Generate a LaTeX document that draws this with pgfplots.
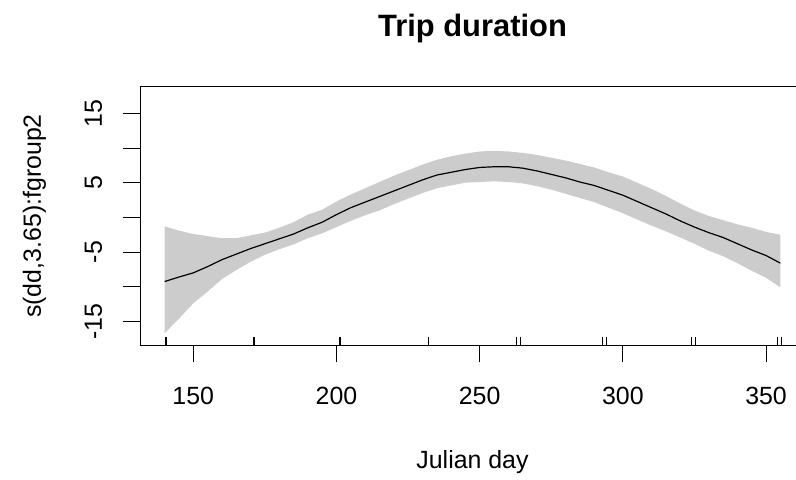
\documentclass[border=0pt]{standalone}
\usepackage{pgfplots}
\usepackage{pgfplotstable}
\pgfplotsset{compat=1.18}
\usepgfplotslibrary{fillbetween}
\usepackage{fontspec}
\setmainfont{Liberation Sans}
\definecolor{bandgray}{HTML}{CCCCCC}

\pgfplotstableread{
x    fit    lo     hi
140  -9.25 -16.7  -1.3
145  -8.6  -14.6  -1.9
150  -8.0  -12.4  -2.4
155  -7.1  -10.7  -2.7
160  -6.1  -8.9   -3.0
165  -5.3  -7.6   -3.0
170  -4.5  -6.4   -2.6
175  -3.8  -5.4   -2.2
180  -3.1  -4.6   -1.5
185  -2.4  -3.9   -0.7
190  -1.5  -3.0    0.4
195  -0.7  -2.3    1.1
200   0.4  -1.4    2.3
205   1.4  -0.5    3.3
210   2.2   0.3    4.2
215   3.0   1.0    5.1
220   3.8   1.9    6.0
225   4.6   2.7    6.8
230   5.4   3.5    7.6
235   6.1   4.2    8.3
240   6.5   4.6    8.8
245   6.9   5.0    9.2
250   7.2   5.1    9.5
255   7.3   5.2    9.6
260   7.3   5.1    9.5
265   7.1   4.9    9.3
270   6.7   4.5    9.0
275   6.2   4.0    8.6
280   5.7   3.4    8.2
285   5.1   2.8    7.7
290   4.6   2.2    7.2
295   3.9   1.4    6.5
300   3.2   0.6    5.9
305   2.3  -0.3    5.0
310   1.4  -1.2    4.1
315   0.5  -2.0    3.1
320  -0.5  -2.9    2.0
325  -1.4  -3.8    1.0
330  -2.2  -4.8    0.2
335  -2.9  -5.6   -0.4
340  -3.8  -6.6   -1.0
345  -4.7  -7.7   -1.5
350  -5.5  -8.7   -2.1
355  -6.6  -10.1  -2.5
}\smooth

\begin{document}
\begin{tikzpicture}
\begin{axis}[
  scale only axis,
  width=665bp, height=258bp,
  xmin=131.4, xmax=363.6,
  ymin=-18.4, ymax=18.8,
  axis line style={black, line width=1bp},
  /pgf/number format/assume math mode=true,
  xtick={150,200,250,300,350},
  ytick={-15,-10,-5,0,5,10,15},
  yticklabels={-15,,-5,,5,,15},
  tick align=outside,
  xtick pos=bottom, ytick pos=left,
  major tick length=17bp,
  tick style={black, line width=1bp},
  tick label style={font=\fontsize{25}{30}\selectfont},
  xticklabel style={anchor=base, inner sep=0pt, yshift=-42bp},
  yticklabel style={anchor=base, inner sep=0pt, xshift=-21bp, rotate=90},
  xlabel={Julian day},
  ylabel={s(dd,3.65):fgroup2},
  label style={font=\fontsize{25}{30}\selectfont},
  xlabel style={at={(axis description cs:0.5,-0.4806)}, anchor=base, inner sep=0pt},
  ylabel style={at={(axis description cs:-0.1489,0.5)}, anchor=base, inner sep=0pt},
  title={Trip duration},
  title style={font=\fontsize{31}{36}\selectfont\bfseries, at={(axis description cs:0.5,1.171)}, anchor=base, inner sep=0pt},
  unbounded coords=jump,
]
\addplot[name path=hi, draw=none, forget plot] table[x=x, y=hi] {\smooth};
\addplot[name path=lo, draw=none, forget plot] table[x=x, y=lo] {\smooth};
\addplot[bandgray, draw=none] fill between[of=hi and lo];
\addplot[black, line width=1.2bp, mark=none] table[x=x, y=fit] {\smooth};
% rug
\addplot[black, line width=1.6bp, mark=none] coordinates {
 (140.5,-18.4) (140.5,-17.2) (140.5,nan)
 (171.2,-18.4) (171.2,-17.2) (171.2,nan)
 (201.3,-18.4) (201.3,-17.2) (201.3,nan)
 (232.2,-18.4) (232.2,-17.2) (232.2,nan)
};
\addplot[black, line width=0.8bp, mark=none] coordinates {
 (262.7,-18.4) (262.7,-17.2) (262.7,nan)
 (264.1,-18.4) (264.1,-17.2) (264.1,nan)
 (292.9,-18.4) (292.9,-17.2) (292.9,nan)
 (294.3,-18.4) (294.3,-17.2) (294.3,nan)
 (323.8,-18.4) (323.8,-17.2) (323.8,nan)
 (325.2,-18.4) (325.2,-17.2) (325.2,nan)
 (353.9,-18.4) (353.9,-17.2) (353.9,nan)
 (355.3,-18.4) (355.3,-17.2) (355.3,nan)
};
\end{axis}
\pgfresetboundingbox
\useasboundingbox (-140bp,-135bp) rectangle (656bp,345bp);
\end{tikzpicture}
\end{document}
